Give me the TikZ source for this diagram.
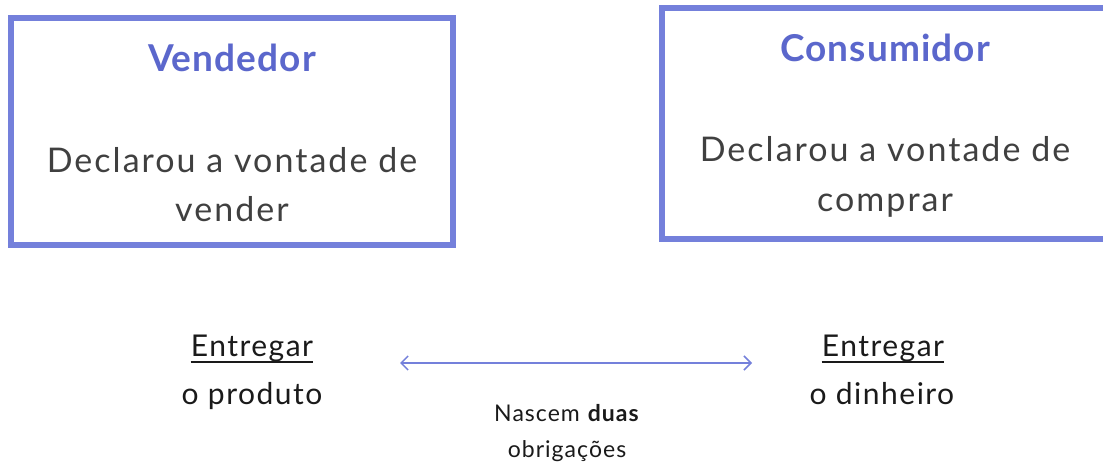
\documentclass[tikz,border=0pt]{standalone}
\usepackage{fontspec}
\setmainfont{Lato}
\usetikzlibrary{arrows.meta}
\definecolor{boxblue}{HTML}{7480DB}
\definecolor{titleblue}{HTML}{5B67CC}
\definecolor{bodygray}{HTML}{404040}
\definecolor{textdark}{HTML}{1A1A1A}
\tikzset{
  panel/.style={draw=boxblue, line width=5.5pt, inner sep=0pt},
  titletext/.style={anchor=base, inner sep=0pt, text=titleblue, font=\fontsize{37}{44}\selectfont\bfseries\addfontfeature{LetterSpace=3}},
  bodytext/.style={anchor=base, inner sep=0pt, text=bodygray, font=\fontsize{34}{40}\selectfont\addfontfeature{LetterSpace=6}},
  dutytext/.style={anchor=base, inner sep=0pt, text=textdark, font=\fontsize{30}{34}\selectfont\addfontfeature{LetterSpace=5}},
  smalltext/.style={anchor=base, inner sep=0pt, text=textdark, font=\fontsize{23}{26}\selectfont\addfontfeature{LetterSpace=4.5}},
  link/.style={draw=boxblue, line width=1.5pt, {Straight Barb[length=7pt,width=14pt]}-{Straight Barb[length=7pt,width=14pt]}},
  uline/.style={draw=textdark, line width=1.8pt}
}
\begin{document}
\begin{tikzpicture}[x=1pt,y=1pt]
\useasboundingbox (0,0) rectangle (1103,465);
\clip (0,0) rectangle (1103,465);
\fill[white] (0,0) rectangle (1103,465);
% boxes
\node[panel, minimum width=442pt, minimum height=227pt] (vbox) at (232,333.5) {};
\node[panel, minimum width=448pt, minimum height=231pt] (cbox) at (886,341.5) {};
% left box text
\node[titletext] (vtitle) at (232,393) {Vendedor};
\node[bodytext] (vl1) at (232,292) {Declarou a vontade de};
\node[bodytext] (vl2) at (232,243) {vender};
% right box text
\node[titletext] (ctitle) at (885,403) {Consumidor};
\node[bodytext] (cl1) at (885,303) {Declarou a vontade de};
\node[bodytext] (cl2) at (885,253) {comprar};
% bottom left
\node[dutytext] (le1) at (252,108) {Entregar};
\node[dutytext] (le2) at (252,60) {o produto};
\draw[uline] ([yshift=-5pt]le1.base west) -- ([yshift=-5pt]le1.base east);
% bottom right
\node[dutytext] (re1) at (883,108) {Entregar};
\node[dutytext] (re2) at (882,60) {o dinheiro};
\draw[uline] ([yshift=-5pt]re1.base west) -- ([yshift=-5pt]re1.base east);
% arrow
\coordinate (aL) at (400,102);
\coordinate (aR) at (752,102);
\draw[link] (aL) -- (aR);
% middle text
\node[smalltext] (m1) at (567,43) {Nascem \textbf{duas}};
\node[smalltext] (m2) at (567,7) {obrigações};
\end{tikzpicture}
\end{document}
